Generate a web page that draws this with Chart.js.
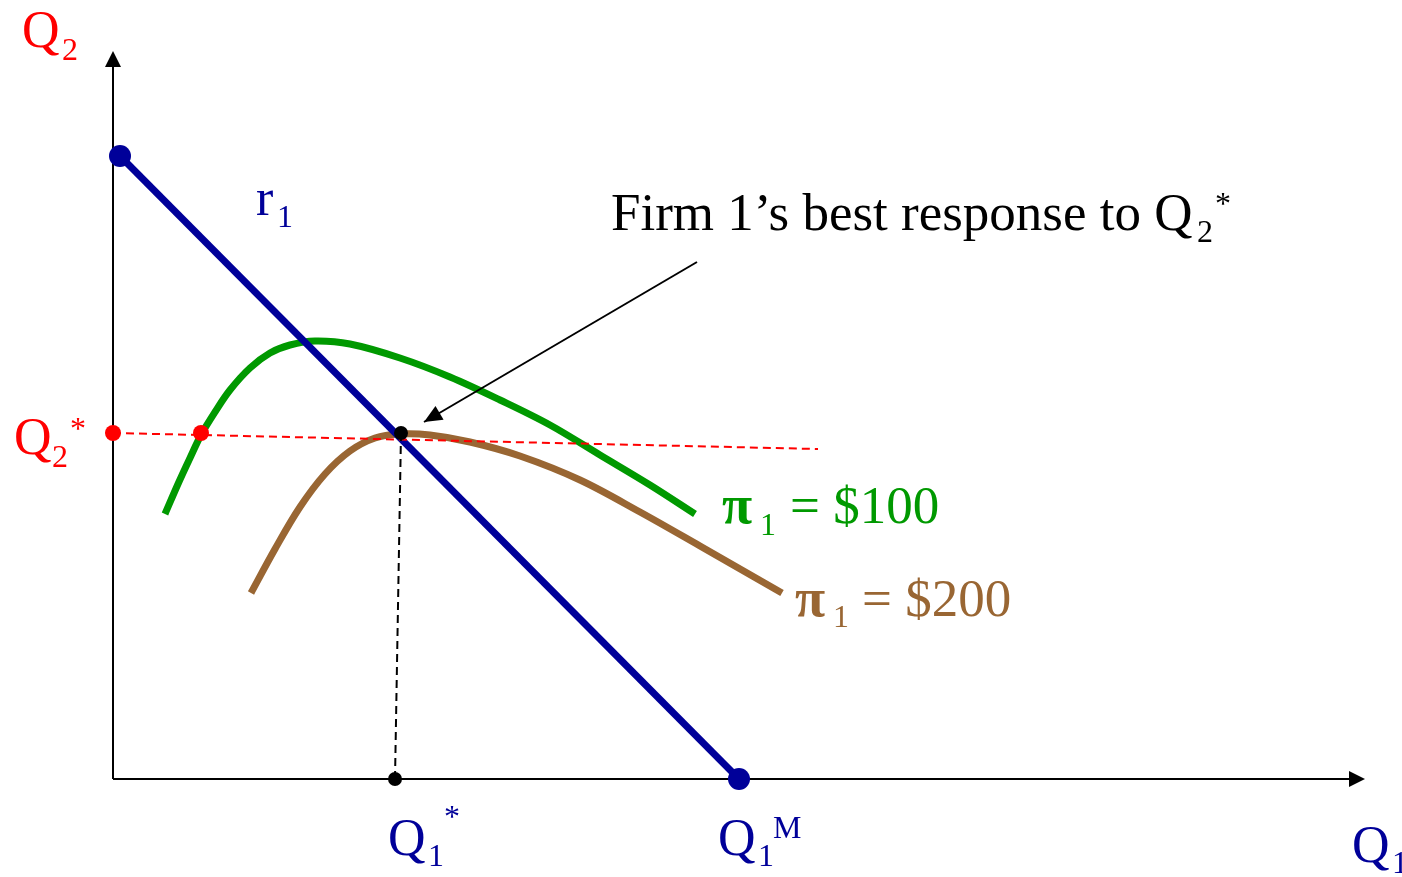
<!DOCTYPE html>
<html><head><meta charset="utf-8">
<script src="https://cdn.jsdelivr.net/npm/chart.js@4.4.0/dist/chart.umd.min.js"></script>
<style>html,body{margin:0;padding:0;background:#fff;overflow:hidden}#wrap{width:1402px;height:877px}</style>
</head><body><div id="wrap"><canvas id="c" width="1402" height="877"></canvas></div>
<script>
// ---- data (units: quantity, origin at axes intersection) ----
const reactionQ1 = [7, 626];
const reactionQ2 = [623, 0];
const iso100Q1 = [52, 65, 77, 88, 102, 117, 137, 157, 177, 202, 237, 287, 337, 387, 437, 487, 537, 582];
const iso100Q2 = [265, 295, 321, 344, 367, 389, 411, 426, 434, 438, 435, 421, 402, 379, 354, 324, 294, 265];
const iso200Q1 = [138, 162, 187, 212, 237, 262, 287, 317, 357, 407, 467, 527, 587, 669];
const iso200Q2 = [186, 230, 272, 305, 328, 341, 345, 344, 337, 323, 299, 267, 233, 186];
const q2StarLineQ1 = [0, 705];
const q2StarLineQ2 = [346, 330];
const q1StarLineQ1 = [288, 282];
const q1StarLineQ2 = [346, 0];
const redDotQ1 = [0, 88];
const redDotQ2 = [346, 346];
const blackDotQ1 = [288, 282];
const blackDotQ2 = [346, 0];
const axisMaxQ1 = 1252;
const axisMaxQ2 = 728;
const noteArrowQ1 = [584, 311];
const noteArrowQ2 = [517, 357];

const pts = (xs, ys) => xs.map((x, i) => ({x, y: ys[i]}));

const NAVY = '#000099', GREEN = '#009900', BROWN = '#996633', RED = '#ff0000';
const SERIF = "'Liberation Serif','Times New Roman',serif";

function lineDs(data, color, width, extra) {
  return Object.assign({data, borderColor: color, backgroundColor: color, borderWidth: width,
    showLine: true, pointRadius: 0, pointHoverRadius: 0, fill: false}, extra || {});
}

const datasets = [
  lineDs(pts([0, axisMaxQ1 - 14], [0, 0]), '#000', 2, {order: 10}),
  lineDs(pts([0, 0], [0, axisMaxQ2 - 14]), '#000', 2, {order: 10}),
  lineDs(pts(iso100Q1, iso100Q2), GREEN, 7, {order: 9, tension: 0.35, borderCapStyle: 'butt'}),
  lineDs(pts(iso200Q1, iso200Q2), BROWN, 7, {order: 8, tension: 0.35, borderCapStyle: 'butt'}),
  lineDs(pts(reactionQ1, reactionQ2), NAVY, 7, {order: 7}),
  lineDs(pts(q2StarLineQ1, q2StarLineQ2), RED, 2, {order: 6, borderDash: [8, 5]}),
  lineDs(pts(q1StarLineQ1, q1StarLineQ2), '#000', 2, {order: 5, borderDash: [8, 5]}),
  lineDs(pts(noteArrowQ1, noteArrowQ2), '#000', 2, {order: 5}),
  {data: pts(reactionQ1, reactionQ2), showLine: false, pointRadius: 11, pointBackgroundColor: NAVY, pointBorderWidth: 0, order: 2},
  {data: pts(redDotQ1, redDotQ2), showLine: false, pointRadius: 8, pointBackgroundColor: RED, pointBorderWidth: 0, order: 2},
  {data: pts(blackDotQ1, blackDotQ2), showLine: false, pointRadius: 7, pointBackgroundColor: '#000', pointBorderWidth: 0, order: 1}
];

function arrowHead(ctx, x1, y1, x2, y2, len, half) {
  const a = Math.atan2(y2 - y1, x2 - x1);
  ctx.beginPath();
  ctx.moveTo(x2, y2);
  ctx.lineTo(x2 - len * Math.cos(a) + half * Math.sin(a), y2 - len * Math.sin(a) - half * Math.cos(a));
  ctx.lineTo(x2 - len * Math.cos(a) - half * Math.sin(a), y2 - len * Math.sin(a) + half * Math.cos(a));
  ctx.closePath();
  ctx.fill();
}

// labels: anchor in data units; parts positioned relative to anchor in px
const labels = [
  {q1: -91, q2: 732, color: RED, parts: [['Q', 52, 0, 0], ['2', 32, 40, 13]]},
  {q1: -99, q2: 325, color: RED, parts: [['Q', 52, 0, 0], ['2', 32, 38, 13], ['*', 32, 56, -15]]},
  {q1: 143, q2: 564, color: NAVY, parts: [['r', 52, 0, 0], ['1', 32, 21, 12]]},
  {q1: 498, q2: 549, color: '#000', parts: [['Firm 1\u2019s best response to Q', 53, 0, 0], ['2', 32, 586, 12], ['*', 32, 604, -16]]},
  {q1: 609, q2: 256, color: GREEN, parts: [['\u03c0', 55, 0, 0, 'bold '], ['1', 32, 38, 12], ['= $100', 53, 68, 0]]},
  {q1: 682, q2: 163, color: BROWN, parts: [['\u03c0', 55, 0, 0, 'bold '], ['1', 32, 38, 11], ['= $200', 53, 67, 0]]},
  {q1: 275, q2: -76, color: NAVY, parts: [['Q', 52, 0, 0], ['1', 32, 40, 11], ['*', 32, 56, -28]]},
  {q1: 605, q2: -76, color: NAVY, parts: [['Q', 52, 0, 0], ['1', 32, 40, 11], ['M', 32, 55, -17]]},
  {q1: 1239, q2: -83, color: NAVY, parts: [['Q', 52, 0, 0], ['1', 32, 40, 11]]}
];

const decor = {
  id: 'decor',
  afterDatasetsDraw(chart) {
    const ctx = chart.ctx, xs = chart.scales.x, ys = chart.scales.y;
    ctx.save();
    ctx.fillStyle = '#000';
    arrowHead(ctx, xs.getPixelForValue(0), ys.getPixelForValue(0), xs.getPixelForValue(axisMaxQ1), ys.getPixelForValue(0), 16, 8);
    arrowHead(ctx, xs.getPixelForValue(0), ys.getPixelForValue(0), xs.getPixelForValue(0), ys.getPixelForValue(axisMaxQ2), 16, 8);
    arrowHead(ctx, xs.getPixelForValue(noteArrowQ1[0]), ys.getPixelForValue(noteArrowQ2[0]),
      xs.getPixelForValue(noteArrowQ1[1]), ys.getPixelForValue(noteArrowQ2[1]), 18, 8);
    ctx.textBaseline = 'alphabetic';
    ctx.textAlign = 'left';
    labels.forEach(l => {
      const x0 = xs.getPixelForValue(l.q1), y0 = ys.getPixelForValue(l.q2);
      ctx.fillStyle = l.color;
      l.parts.forEach(([t, size, dx, dy, style]) => {
        ctx.font = (style || '') + size + 'px ' + SERIF;
        ctx.fillText(t, x0 + dx, y0 + dy);
      });
    });
    ctx.restore();
  }
};

new Chart(document.getElementById('c'), {
  type: 'scatter',
  data: {datasets},
  options: {
    responsive: false,
    animation: false,
    devicePixelRatio: 1,
    layout: {padding: 0, autoPadding: false},
    plugins: {legend: {display: false}, tooltip: {enabled: false}},
    events: [],
    scales: {
      x: {type: 'linear', min: -113, max: 1289, display: false},
      y: {type: 'linear', min: -98, max: 779, display: false}
    }
  },
  plugins: [decor]
});
</script>
</body></html>
